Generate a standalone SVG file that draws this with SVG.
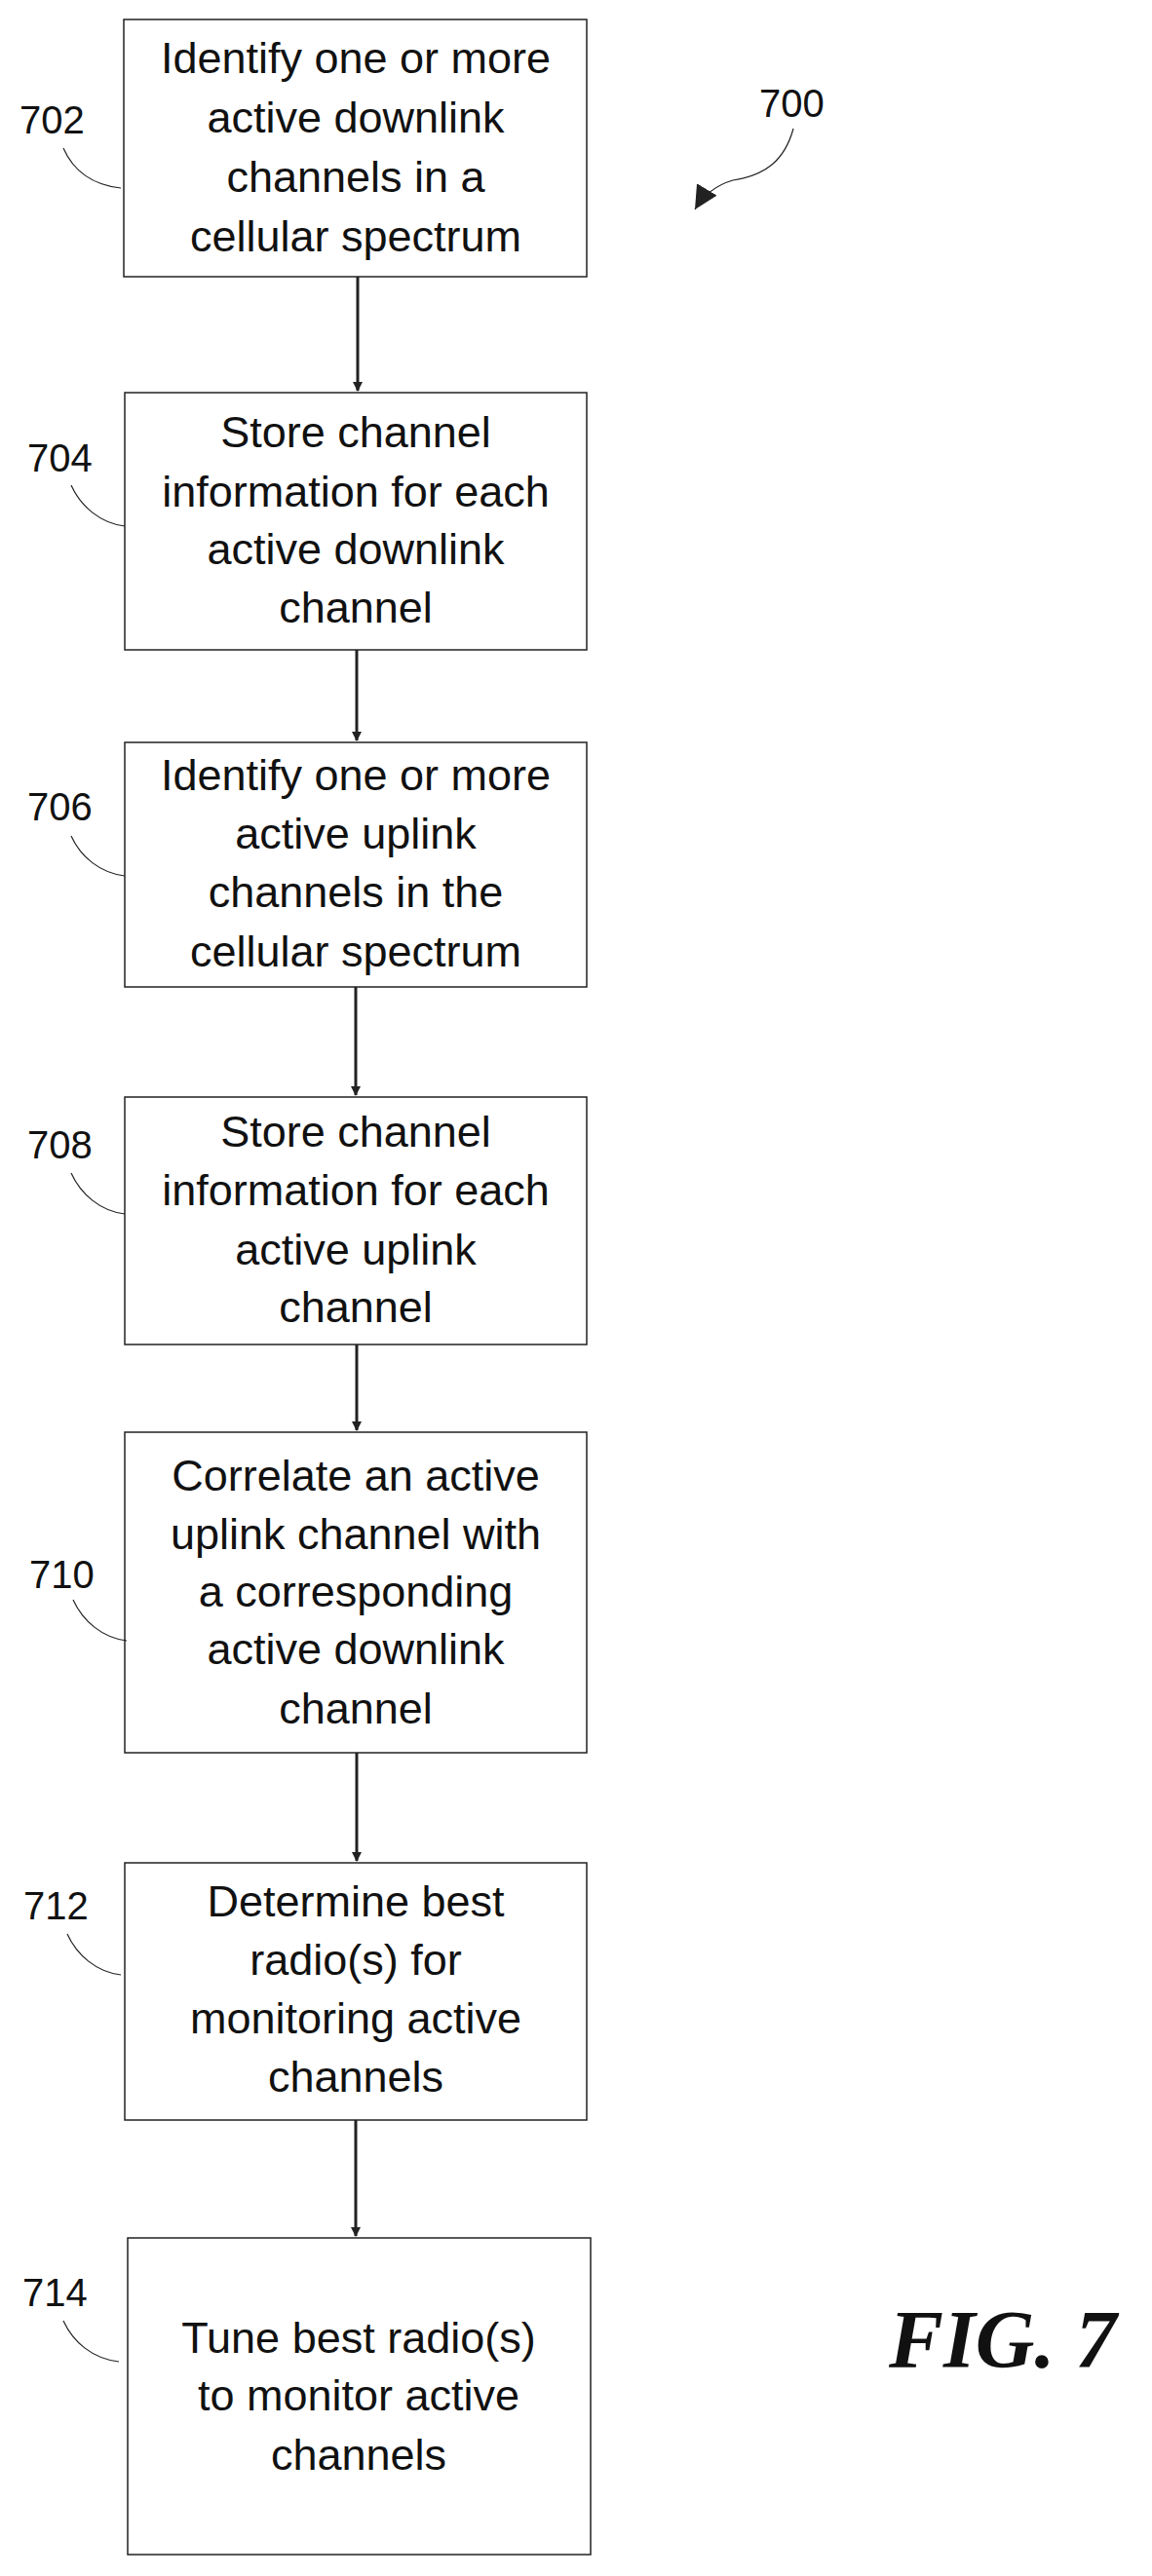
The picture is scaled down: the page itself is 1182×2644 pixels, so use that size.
<svg xmlns="http://www.w3.org/2000/svg" width="1182" height="2644" viewBox="0 0 1182 2644">
<style>
.box{fill:#fff;stroke:#222;stroke-width:1.5}
.t{font-family:"Liberation Sans",Arial,sans-serif;font-size:45px;fill:#111;text-anchor:middle}
.lbl{font-family:"Liberation Sans",Arial,sans-serif;font-size:40px;fill:#111}
.lead{fill:none;stroke:#222;stroke-width:1.2}
.conn{fill:none;stroke:#222;stroke-width:3}
.fig{font-family:"Liberation Serif","Times New Roman",serif;font-size:84px;font-weight:bold;font-style:italic;fill:#111}
</style>
<defs>
<marker id="ah" markerWidth="10" markerHeight="10" refX="9" refY="5" orient="auto" markerUnits="userSpaceOnUse" viewBox="0 0 10 10">
<path d="M0,0 L10,5 L0,10 Z" fill="#222"/>
</marker>
<marker id="ah2" markerWidth="24" markerHeight="24" refX="10" refY="5" orient="auto" markerUnits="userSpaceOnUse" viewBox="0 0 10 10">
<path d="M0,0 L10,5 L0,10 Z" fill="#222"/>
</marker>
</defs>
<rect width="1182" height="2644" fill="#fff"/>
<g id="connectors">
<line class="conn" x1="367" y1="284" x2="367" y2="401" marker-end="url(#ah)"/>
<line class="conn" x1="366" y1="667" x2="366" y2="760" marker-end="url(#ah)"/>
<line class="conn" x1="365" y1="1013" x2="365" y2="1124" marker-end="url(#ah)"/>
<line class="conn" x1="366" y1="1380" x2="366" y2="1468" marker-end="url(#ah)"/>
<line class="conn" x1="366" y1="1799" x2="366" y2="1910" marker-end="url(#ah)"/>
<line class="conn" x1="365" y1="2176" x2="365" y2="2295" marker-end="url(#ah)"/>
</g>
<g id="ref700">
<text class="lbl" x="779" y="120">700</text>
<path class="lead" d="M814,132 C805,165 785,180 752,185 C735,190 722,200 713,215" marker-end="url(#ah2)"/>
</g>
<g id="n702">
<rect class="box" x="127" y="20" width="475" height="264"/>
<text class="t" x="365" y="75">Identify one or more</text>
<text class="t" x="365" y="136">active downlink</text>
<text class="t" x="365" y="197">channels in a</text>
<text class="t" x="365" y="258">cellular spectrum</text>
<text class="lbl" x="20" y="137">702</text>
<path class="lead" d="M65,152 C75,175 95,190 124,193"/>
</g>
<g id="n704">
<rect class="box" x="128" y="403" width="474" height="264"/>
<text class="t" x="365" y="459">Store channel</text>
<text class="t" x="365" y="520">information for each</text>
<text class="t" x="365" y="579">active downlink</text>
<text class="t" x="365" y="639">channel</text>
<text class="lbl" x="28" y="484">704</text>
<path class="lead" d="M73,498 C83,520 103,537 128,540"/>
</g>
<g id="n706">
<rect class="box" x="128" y="762" width="474" height="251"/>
<text class="t" x="365" y="811">Identify one or more</text>
<text class="t" x="365" y="871">active uplink</text>
<text class="t" x="365" y="931">channels in the</text>
<text class="t" x="365" y="992">cellular spectrum</text>
<text class="lbl" x="28" y="842">706</text>
<path class="lead" d="M73,858 C83,880 103,896 128,899"/>
</g>
<g id="n708">
<rect class="box" x="128" y="1126" width="474" height="254"/>
<text class="t" x="365" y="1177">Store channel</text>
<text class="t" x="365" y="1237">information for each</text>
<text class="t" x="365" y="1298">active uplink</text>
<text class="t" x="365" y="1357">channel</text>
<text class="lbl" x="28" y="1189">708</text>
<path class="lead" d="M73,1204 C83,1226 103,1243 128,1246"/>
</g>
<g id="n710">
<rect class="box" x="128" y="1470" width="474" height="329"/>
<text class="t" x="365" y="1530">Correlate an active</text>
<text class="t" x="365" y="1590">uplink channel with</text>
<text class="t" x="365" y="1649">a corresponding</text>
<text class="t" x="365" y="1708">active downlink</text>
<text class="t" x="365" y="1769">channel</text>
<text class="lbl" x="30" y="1630">710</text>
<path class="lead" d="M75,1642 C85,1664 105,1681 130,1684"/>
</g>
<g id="n712">
<rect class="box" x="128" y="1912" width="474" height="264"/>
<text class="t" x="365" y="1967">Determine best</text>
<text class="t" x="365" y="2027">radio(s) for</text>
<text class="t" x="365" y="2087">monitoring active</text>
<text class="t" x="365" y="2147">channels</text>
<text class="lbl" x="24" y="1970">712</text>
<path class="lead" d="M69,1985 C79,2007 99,2024 124,2027"/>
</g>
<g id="n714">
<rect class="box" x="131" y="2297" width="475" height="325"/>
<text class="t" x="368" y="2415">Tune best radio(s)</text>
<text class="t" x="368" y="2474">to monitor active</text>
<text class="t" x="368" y="2535">channels</text>
<text class="lbl" x="23" y="2367">714</text>
<path class="lead" d="M65,2382 C75,2404 95,2421 122,2424"/>
</g>
<text class="fig" x="912" y="2430">FIG. 7</text>
</svg>
